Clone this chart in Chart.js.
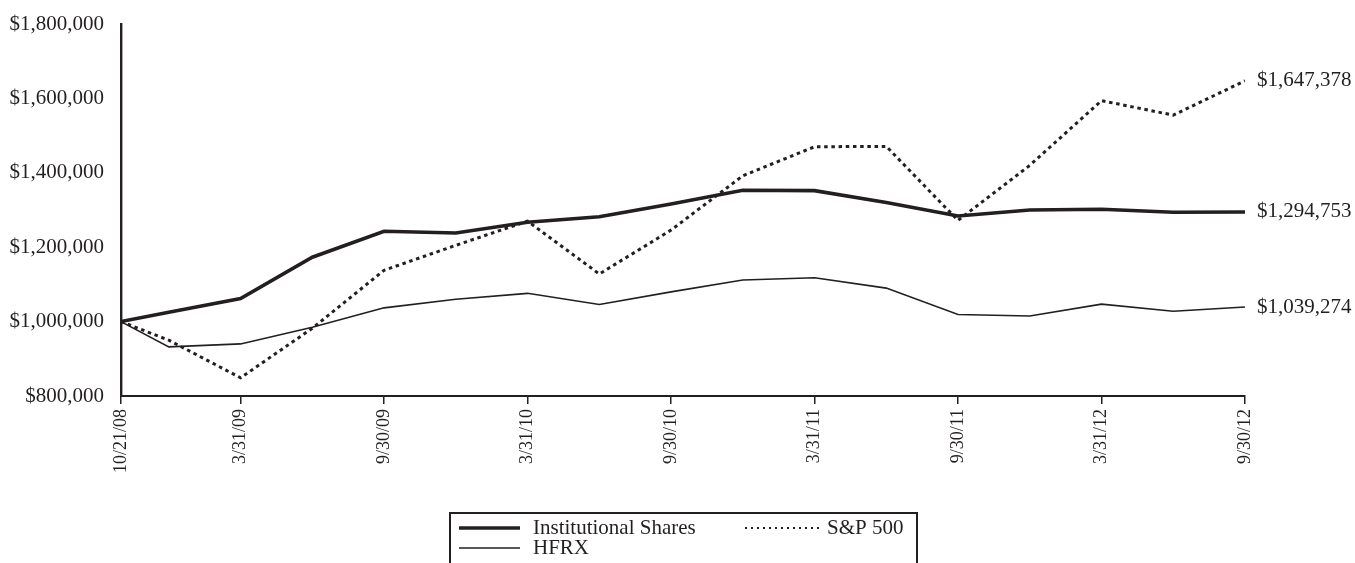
<!DOCTYPE html>
<html>
<head>
<meta charset="utf-8">
<script src="https://cdn.jsdelivr.net/npm/chart.js@4.4.1/dist/chart.umd.min.js"></script>
<style>
  html, body { margin: 0; padding: 0; background: #ffffff; }
  #wrap { width: 1355px; height: 563px; position: relative; }
</style>
</head>
<body>
<div id="wrap"><canvas id="growth"></canvas></div>
<script>
// Valuation dates (quarter ends after the 10/21/08 inception)
const dates = ['10/21/08', '12/31/08', '3/31/09', '6/30/09', '9/30/09', '12/31/09',
               '3/31/10', '6/30/10', '9/30/10', '12/31/10', '3/31/11', '6/30/11',
               '9/30/11', '12/31/11', '3/31/12', '6/30/12', '9/30/12'];

// Dates labelled on the horizontal axis
const tickDates = ['10/21/08', '3/31/09', '9/30/09', '3/31/10', '9/30/10',
                   '3/31/11', '9/30/11', '3/31/12', '9/30/12'];

// Growth of a $1,000,000 investment
const institutional = [1000000, 1025000, 1062000, 1173000, 1243000, 1238000, 1267000,
                       1282000, 1316000, 1353000, 1352000, 1320000, 1284000, 1300000,
                       1302000, 1294000, 1294753];
const sp500 = [1000000, 950000, 849000, 982000, 1138000, 1205000, 1270000, 1128000,
               1246000, 1392000, 1470000, 1471000, 1272000, 1420000, 1594000, 1555000,
               1647378];
const hfrx = [1000000, 932000, 940000, 985000, 1037000, 1060000, 1076000, 1046000,
              1080000, 1112000, 1118000, 1090000, 1019000, 1015000, 1047000, 1028000,
              1039274];

const INK = '#231f20';
const FONT = '"Liberation Serif", "Times New Roman", serif';
const FONT_SIZE = 21;
const DATE_FONT_SIZE = 18;

// Dates are spaced by calendar month (October 2008 = 0)
function monthIndex(d) {
  const [m, , y] = d.split('/').map(Number);
  return (y - 8) * 12 + (m - 10);
}
const xs = dates.map(monthIndex);
const toPoints = vals => vals.map((v, i) => ({ x: xs[i], y: v }));
const money = v => '$' + Math.round(v).toLocaleString('en-US');

// Ending value written to the right of each line
const endLabels = {
  id: 'endLabels',
  afterDatasetsDraw(chart) {
    const ctx = chart.ctx;
    ctx.save();
    ctx.font = FONT_SIZE + 'px ' + FONT;
    ctx.fillStyle = INK;
    ctx.textAlign = 'left';
    ctx.textBaseline = 'middle';
    chart.data.datasets.forEach((ds, i) => {
      const meta = chart.getDatasetMeta(i);
      const last = meta.data[meta.data.length - 1];
      const v = ds.data[ds.data.length - 1].y;
      ctx.fillText(money(v), last.x + 12, last.y);
    });
    ctx.restore();
  }
};

// Boxed legend below the axis
const boxedLegend = {
  id: 'boxedLegend',
  afterDraw(chart) {
    const ctx = chart.ctx;
    const ds = chart.data.datasets;
    const slots = [
      { d: ds[0], x: 459, y: 528, len: 61 },
      { d: ds[1], x: 745, y: 528, len: 77, width: 2, dash: [2, 4] },
      { d: ds[2], x: 459, y: 548, len: 61 }
    ];
    ctx.save();
    ctx.strokeStyle = INK;
    ctx.lineWidth = 2;
    ctx.strokeRect(450, 513, 467, 70);
    ctx.font = FONT_SIZE + 'px ' + FONT;
    ctx.fillStyle = INK;
    ctx.textBaseline = 'middle';
    slots.forEach(s => {
      ctx.beginPath();
      ctx.lineWidth = s.width || s.d.borderWidth;
      ctx.setLineDash(s.dash || []);
      ctx.moveTo(s.x, s.y);
      ctx.lineTo(s.x + s.len, s.y);
      ctx.stroke();
      ctx.setLineDash([]);
      ctx.fillText(s.d.label, s.x + s.len + 13 - (s.dash ? 8 : 0), s.y);
    });
    ctx.restore();
  }
};

new Chart(document.getElementById('growth'), {
  type: 'line',
  data: {
    datasets: [
      { label: 'Institutional Shares', data: toPoints(institutional),
        borderColor: INK, borderWidth: 3.6 },
      { label: 'S&P 500', data: toPoints(sp500),
        borderColor: INK, borderWidth: 3, borderDash: [3.5, 3.7] },
      { label: 'HFRX', data: toPoints(hfrx),
        borderColor: INK, borderWidth: 1.6 }
    ]
  },
  options: {
    responsive: true,
    maintainAspectRatio: false,
    animation: false,
    layout: { padding: { top: 24, right: 110, left: 0, bottom: 0 } },
    elements: { point: { radius: 0 }, line: { tension: 0, borderCapStyle: 'butt' } },
    plugins: { legend: { display: false }, tooltip: { enabled: false } },
    scales: {
      x: {
        type: 'linear',
        min: xs[0],
        max: xs[xs.length - 1],
        afterBuildTicks: s => { s.ticks = tickDates.map(d => ({ value: monthIndex(d) })); },
        afterFit: s => { s.height = 167; },
        ticks: {
          autoSkip: false, minRotation: 90, maxRotation: 90, padding: 5,
          color: INK, font: { family: FONT, size: DATE_FONT_SIZE },
          callback: (v, i) => tickDates[i]
        },
        grid: { display: true, drawOnChartArea: false, drawTicks: true,
                tickLength: 8, color: INK, lineWidth: 1.5 },
        border: { display: true, color: INK, width: 2 }
      },
      y: {
        min: 800000,
        max: 1800000,
        afterFit: s => { s.width = 121; s.paddingTop = 0; s.paddingBottom = 0; },
        ticks: {
          stepSize: 200000, padding: 17, color: INK,
          font: { family: FONT, size: FONT_SIZE },
          callback: v => money(v)
        },
        grid: { display: false, drawTicks: false },
        border: { display: true, color: INK, width: 2.4 }
      }
    }
  },
  plugins: [endLabels, boxedLegend]
});
</script>
</body>
</html>
